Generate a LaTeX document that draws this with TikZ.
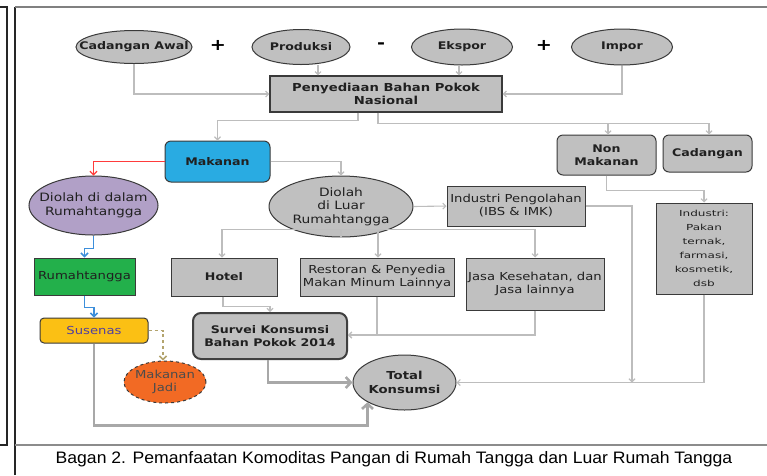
\documentclass[tikz,border=0pt]{standalone}
\usepackage{fontspec}
\setmainfont{DejaVu Sans}[FakeStretch=1.2]
\newfontfamily\capfont{Liberation Sans}[FakeStretch=1.06]
\newfontfamily\smallwide{DejaVu Sans}[FakeStretch=1.45]
\usetikzlibrary{shapes.geometric,arrows.meta}
\definecolor{boxgray}{HTML}{C0C0C0}
\definecolor{linegray}{HTML}{BDBDBD}
\definecolor{thickgray}{HTML}{A8A8A8}
\definecolor{edgedark}{HTML}{3A3A3A}
\definecolor{txtdark}{HTML}{202020}
\definecolor{mkblue}{HTML}{29ABE2}
\definecolor{ddpurple}{HTML}{B1A0C7}
\definecolor{rtgreen}{HTML}{23B04B}
\definecolor{suyellow}{HTML}{FBC014}
\definecolor{mjorange}{HTML}{F26A24}
\definecolor{redline}{HTML}{FF3B3B}
\definecolor{blueline}{HTML}{3D8FDB}
\definecolor{oliveline}{HTML}{B3A46E}
\definecolor{supurple}{HTML}{4F3FA0}
\begin{document}
\begin{tikzpicture}[x=1pt,y=-1pt,
  ell/.style={ellipse, draw=edgedark, line width=1pt, fill=boxgray, inner sep=0pt},
  rbox/.style={rectangle, draw=edgedark, line width=1pt, fill=boxgray, inner sep=0pt, align=center, text=txtdark},
  rrbox/.style={rbox, rounded corners=6pt},
  lbl/.style={align=center, text=txtdark},
  bl/.style={font=\bfseries\fontsize{10.5}{12.5}\selectfont},
  rg/.style={font=\fontsize{11}{13}\selectfont},
  conn/.style={draw=linegray, line width=1.1pt, -{Straight Barb[length=3pt,width=6pt]}},
  colconn/.style={line width=1.5pt, -{Straight Barb[length=3.5pt,width=7pt]}},
  thickconn/.style={draw=thickgray, line width=2.6pt, -{Straight Barb[length=5pt,width=11pt]}},
  sign/.style={font=\bfseries\fontsize{16}{16}\selectfont, text=black}
]
\useasboundingbox (0,0) rectangle (767,475);
% frame
\draw[black!85, line width=1.2pt] (0,7) -- (7,7) -- (7,445) -- (0,445);
\draw[black!85, line width=1.2pt] (15,475) -- (15,7);
\draw[gray, line width=2pt] (15,7) -- (767,7);
\draw[gray!90, line width=1.2pt] (15,445) -- (767,445);
\node[font=\capfont\fontsize{16.6}{19}\selectfont, text=black] (cap) at (394,459) {Bagan 2. Pemanfaatan Komoditas Pangan di Rumah Tangga dan Luar Rumah Tangga};

% top row
\node[ell, minimum width=116pt, minimum height=33pt, label={[lbl,bl]center:Cadangan Awal}] (ca) at (134,47) {};
\node[sign] (s1) at (218,45) {+};
\node[ell, minimum width=98pt, minimum height=35pt, label={[lbl,bl]center:Produksi}] (pr) at (301,47) {};
\node[sign] (s2) at (381,46) {-};
\node[ell, minimum width=101pt, minimum height=36pt, label={[lbl,bl]center:Ekspor}] (ek) at (462,47) {};
\node[sign] (s3) at (544,45) {+};
\node[ell, minimum width=101pt, minimum height=36pt, label={[lbl,bl]center:Impor}] (im) at (622,47) {};

\node[rbox, font=\bfseries\fontsize{11}{13}\selectfont, minimum width=232pt, minimum height=36pt, line width=1.4pt] (pb) at (386,94) {Penyediaan Bahan Pokok\\Nasional};

% second level
\node[rrbox, bl, fill=mkblue, minimum width=105pt, minimum height=41pt] (mk) at (217.5,161.5) {Makanan};
\node[rrbox, bl, minimum width=99pt, minimum height=40pt] (nm) at (606.5,155) {Non\\Makanan};
\node[rrbox, bl, minimum width=89pt, minimum height=37pt] (cd) at (707.5,153.5) {Cadangan};

\node[ell, fill=ddpurple, minimum width=129pt, minimum height=59pt, label={[lbl,font=\fontsize{11.5}{13.5}\selectfont]center:{Diolah di dalam\\Rumahtangga}}] (dd) at (93.5,205.5) {};
\node[ell, minimum width=144pt, minimum height=61pt, label={[lbl,font=\fontsize{11.5}{13.5}\selectfont]center:{Diolah\\di Luar\\Rumahtangga}}] (dl) at (341,206.5) {};
\node[rbox, rg, minimum width=138pt, minimum height=40pt] (ip) at (516,206) {Industri Pengolahan\\(IBS \& IMK)};
\node[rbox, font=\smallwide\fontsize{8.3}{14}\selectfont, minimum width=96pt, minimum height=91pt] (in) at (704,248.5) {Industri:\\Pakan\\ternak,\\farmasi,\\kosmetik,\\dsb};

\node[rbox, rg, fill=rtgreen, minimum width=101pt, minimum height=37pt] (rt) at (84.5,276.5) {Rumahtangga};
\node[rbox, bl, minimum width=106pt, minimum height=38pt] (ho) at (224,277) {Hotel};
\node[rbox, rg, minimum width=154pt, minimum height=38pt] (rs) at (377,277) {Restoran \& Penyedia\\Makan Minum Lainnya};
\node[rbox, rg, minimum width=138pt, minimum height=52pt] (js) at (535,284) {Jasa Kesehatan, dan\\Jasa lainnya};

\node[rrbox, rg, fill=suyellow, text=supurple, minimum width=108pt, minimum height=25pt, rounded corners=4pt] (su) at (94,330.5) {Susenas};
\node[rrbox, bl, draw=black!75, line width=2pt, rounded corners=8pt, minimum width=154pt, minimum height=46pt] (sv) at (270,336) {Survei Konsumsi\\Bahan Pokok 2014};
\node[ell, fill=mjorange, dashed, line width=1pt, minimum width=82pt, minimum height=42pt, label={[lbl,text=black!70,font=\fontsize{11}{13}\selectfont]center:{Makanan\\Jadi}}] (mj) at (165,382) {};
\node[ell, minimum width=103pt, minimum height=55pt, label={[lbl,bl,font=\bfseries\fontsize{11}{13.5}\selectfont]center:{Total\\Konsumsi}}] (tk) at (404.5,382.5) {};

% connectors: top
\draw[conn] (ca.south) |- (pb.west);
\coordinate (prs) at ([xshift=17pt]pr.south);
\draw[conn] (prs) -- (prs |- pb.north);
\coordinate (eks) at ([xshift=-3pt]ek.south);
\draw[conn] (eks) -- (eks |- pb.north);
\draw[conn] (im.south) |- (pb.east);
\coordinate (pb1) at ([xshift=-28pt]pb.south);
\coordinate (pb2) at ([xshift=-8pt]pb.south);
\draw[conn] (pb1) -- ++(0,8) -| (mk.north);
\draw[conn] (pb2) -- ++(0,11) -| ([xshift=1.5pt]nm.north);
\draw[conn] (pb2) ++(0,11) -| ([xshift=1.5pt]cd.north);
% makanan
\draw[colconn, draw=redline, line width=1.2pt] (mk.west) -| (dd.north);
\draw[conn] (mk.east) -| (dl.north);
% inside household
\draw[colconn, draw=blueline] (dd.south) -- ++(0,13) -| (rt.north);
\draw[colconn, draw=blueline] (rt.south) -- ++(0,12) -| (su.north);
\draw[colconn, draw=oliveline, dashed] (su.east) -| ([xshift=-2pt]mj.north);
\draw[thickconn] (su.south) -- ++(0,82) -| (tk.208);
% outside household
\coordinate (dlb) at ([yshift=8pt]dl.south);
\draw[conn] (dl.south) -- (dlb) -| ([xshift=-2pt]ho.north);
\draw[conn] (dlb) -| ([xshift=1pt]rs.north);
\draw[conn] (dlb) -| (js.north);
\draw[conn] (dl.east) -- (ip.west);
\draw[conn] ([xshift=-1pt]ho.south) -- ++(0,10) -| (sv.north);
\draw[conn] (rs.south) |- ([yshift=1pt]sv.east);
\draw[conn] (js.south) |- ([yshift=1pt]sv.east);
\draw[thickconn] ([xshift=-2pt]sv.south) |- (tk.west);
% non food
\draw[conn] (nm.south) -- ++(0,15) -| (in.north);
\coordinate (jn) at (632,382.5);
\draw[conn] (ip.east) -| (jn);
\draw[conn] (in.south) |- (tk.east);
\end{tikzpicture}
\end{document}
